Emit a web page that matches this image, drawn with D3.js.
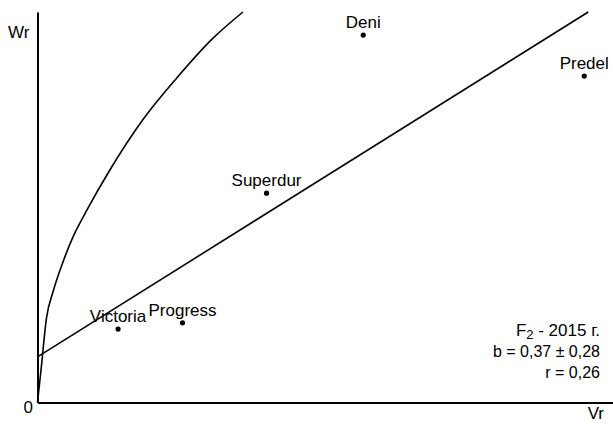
<!DOCTYPE html>
<html>
<head>
<meta charset="utf-8">
<script src="https://cdn.jsdelivr.net/npm/d3@7"></script>
<style>
  body { margin: 0; background: #fff; }
  svg text { font-family: "Liberation Sans", Arial, sans-serif; font-size: 17px; fill: #000; }
  svg text.note { font-size: 16px; }
</style>
</head>
<body>
<div id="chart"></div>
<script>
// varieties (Vr, Wr) in arbitrary axis units 0..100
const varieties = ['Victoria', 'Progress', 'Superdur', 'Deni', 'Predel'];
const vr = [14.0, 25.2, 39.8, 56.6, 95.0];
const wr = [18.8, 20.4, 53.6, 94.1, 83.6];

// regression line Wr = a + b*Vr, endpoints
const regVr = [0, 95.7];
const regWr = [11.7, 100];

// limiting parabola, read point by point
const limVr = [0, 0.61, 1.56, 2.69, 4.43, 6.17, 8.6, 12.6, 18.3, 24.2, 30.5, 35.7];
const limWr = [0, 8.3, 21.6, 28.3, 36.0, 42.4, 49.3, 59.6, 72.4, 83.1, 93.3, 100];

const notes = ['b = 0,37 ± 0,28', 'r = 0,26'];

const W = 613, H = 424;
const MARGIN = { left: 37.5, right: 0, top: 12, bottom: 21.5 };

const svg = d3.select('#chart').append('svg')
    .attr('width', W)
    .attr('height', H);

let x = d3.scaleLinear().domain([0, 100]).range([MARGIN.left, W - MARGIN.right]);
let y = d3.scaleLinear().domain([0, 100]).range([H - MARGIN.bottom, MARGIN.top]);

// axes, no ticks
let gX = svg.append('g')
    .attr('transform', 'translate(0,' + y(0) + ')')
    .call(d3.axisBottom(x).ticks(0).tickSizeOuter(0));
let gY = svg.append('g')
    .attr('transform', 'translate(' + x(0) + ',0)')
    .call(d3.axisLeft(y).ticks(0).tickSizeOuter(0));
svg.selectAll('.domain').attr('stroke', '#000').attr('stroke-width', 2);

let line = d3.line().x(d => x(d[0])).y(d => y(d[1]));

svg.append('path')
    .datum(d3.zip(limVr, limWr))
    .attr('d', line.curve(d3.curveMonotoneX))
    .attr('fill', 'none')
    .attr('stroke', '#000')
    .attr('stroke-width', 1.6);

svg.append('path')
    .datum(d3.zip(regVr, regWr))
    .attr('d', line.curve(d3.curveLinear))
    .attr('fill', 'none')
    .attr('stroke', '#000')
    .attr('stroke-width', 1.6);

let pts = varieties.map((name, i) => ({ name: name, x: vr[i], y: wr[i] }));

svg.selectAll('circle.pt')
    .data(pts)
    .enter().append('circle')
    .attr('class', 'pt')
    .attr('cx', d => x(d.x))
    .attr('cy', d => y(d.y))
    .attr('r', 2.6)
    .attr('fill', '#000');

svg.selectAll('text.lbl')
    .data(pts)
    .enter().append('text')
    .attr('class', 'lbl')
    .attr('x', d => x(d.x))
    .attr('y', d => y(d.y) - 7)
    .attr('text-anchor', 'middle')
    .text(d => d.name);

// axis titles
svg.append('text').attr('x', 8).attr('y', 38).text('Wr');
svg.append('text').attr('x', 33).attr('y', 413).attr('text-anchor', 'end').text('0');
svg.append('text').attr('x', 604).attr('y', 419).attr('text-anchor', 'end').text('Vr');

// annotation block
let t1 = svg.append('text')
    .attr('x', 600).attr('y', 336)
    .attr('text-anchor', 'end');
t1.append('tspan').text('F');
t1.append('tspan').attr('font-size', '13px').attr('dy', 3).text('2');
t1.append('tspan').attr('dy', -3).text(' - 2015 г.');

notes.forEach((s, i) => {
    svg.append('text')
        .attr('class', 'note')
        .attr('x', 600)
        .attr('y', 357 + i * 21)
        .attr('text-anchor', 'end')
        .text(s);
});
</script>
</body>
</html>
